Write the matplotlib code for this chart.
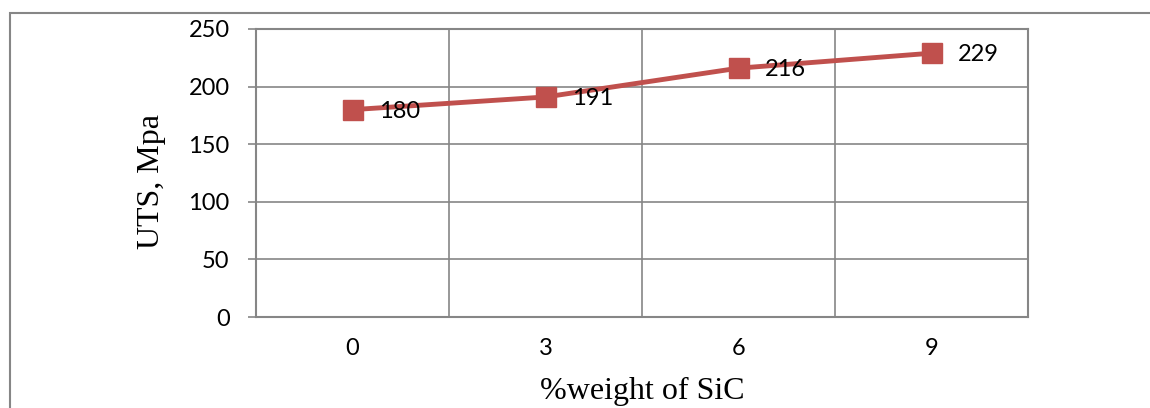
import matplotlib
matplotlib.use("Agg")
import matplotlib.pyplot as plt
from matplotlib.patches import Rectangle

sic_weight = ["0", "3", "6", "9"]
uts_mpa = [180, 191, 216, 229]
y_ticks = [0, 50, 100, 150, 200, 250]

line_color = "#C0504D"
grid_color = "#868686"
sans = ["Lato", "DejaVu Sans"]
serif = ["Liberation Serif", "DejaVu Serif"]

fig = plt.figure(figsize=(11.5, 4.08), dpi=100)
ax = fig.add_axes([256 / 1150, 1 - 317 / 408, (1028 - 256) / 1150, (317 - 29) / 408])

# outer chart frame
fig.patches.append(Rectangle((10 / 1150, -0.1), 1.2, 1 - 13 / 408 + 0.1,
                             transform=fig.transFigure, fill=False,
                             edgecolor=grid_color, linewidth=1.5, clip_on=False))

x = list(range(len(sic_weight)))
ax.plot(x, uts_mpa, color=line_color, linewidth=3.5, marker="s",
        markersize=14, markerfacecolor=line_color, markeredgecolor=line_color,
        zorder=3)
for xi, v in zip(x, uts_mpa):
    ax.annotate(str(v), (xi, v), xytext=(19, -1), textcoords="offset points",
                ha="left", va="center", fontsize=17, family=sans, zorder=4)

ax.set_xlim(-0.5, len(sic_weight) - 0.5)
ax.set_ylim(0, 250)
ax.set_yticks(y_ticks)
ax.set_xticks(x)
ax.set_xticklabels(sic_weight)
ax.set_xticks([i + 0.5 for i in range(len(sic_weight) - 1)], minor=True)

ax.grid(True, axis="y", which="major", color=grid_color, linewidth=1.2)
ax.grid(True, axis="x", which="minor", color=grid_color, linewidth=1.2)
ax.set_axisbelow(True)

for s in ax.spines.values():
    s.set_color(grid_color)
    s.set_linewidth(1.5)

ax.tick_params(axis="y", length=6, width=1.2, color=grid_color, pad=13,
               labelsize=17)
ax.tick_params(axis="x", which="major", length=0, pad=15, labelsize=17)
ax.tick_params(axis="x", which="minor", length=0)
for lab in ax.get_xticklabels() + ax.get_yticklabels():
    lab.set_family(sans)

ax.set_ylabel("UTS, Mpa", family=serif, fontsize=23)
ax.yaxis.set_label_coords(-0.116, 0.47)
ax.set_xlabel("%weight of SiC", family=serif, fontsize=23, labelpad=13)

fig.savefig("out.png", dpi=100)
